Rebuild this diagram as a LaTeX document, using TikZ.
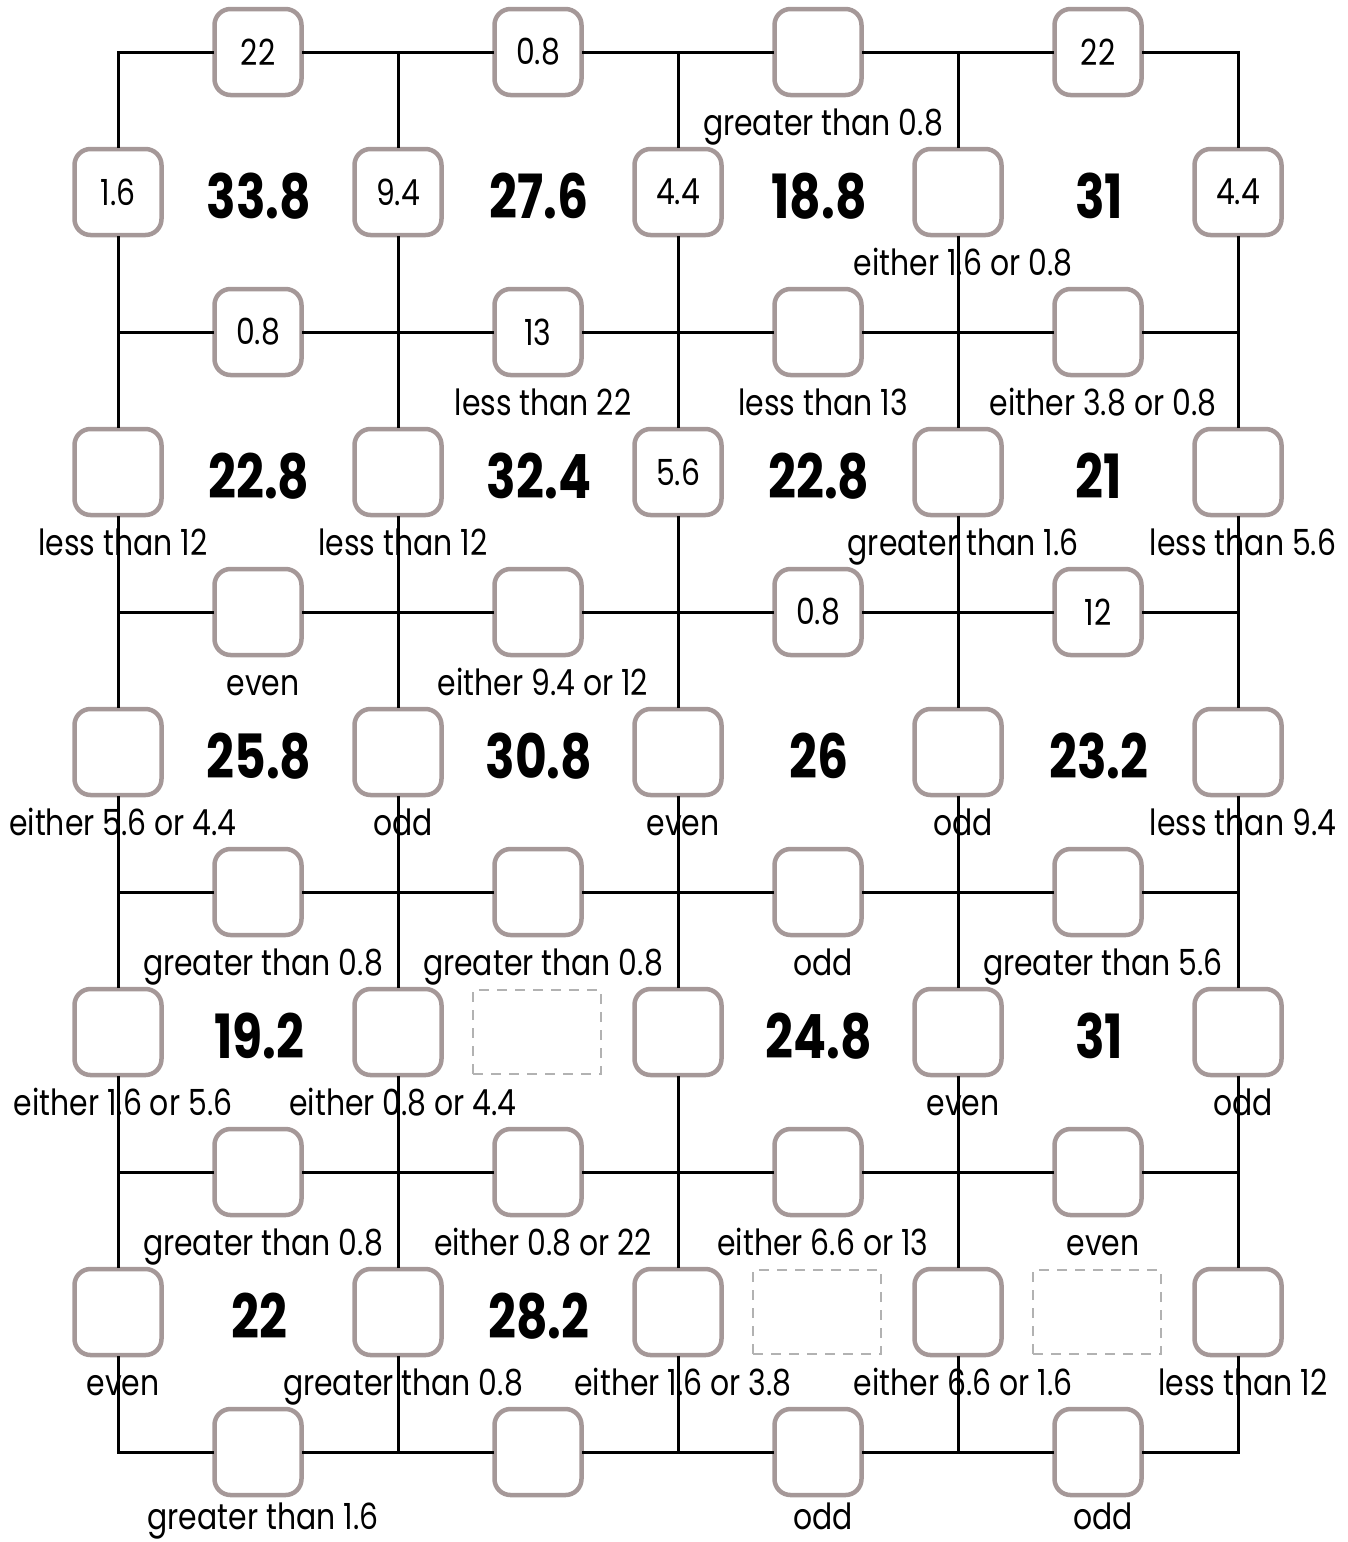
\documentclass[tikz,border=0pt]{standalone}
\usepackage{fontspec}
\setmainfont{Poppins}[FakeStretch=0.83]
\newfontfamily\bignum{Poppins}[FakeStretch=0.8]
\definecolor{boxc}{RGB}{165,152,152}
\definecolor{dashc}{RGB}{178,178,178}
\newcommand\myH[4]{%
  \node[box] (h-#1-#2) at ({258+280*#2},{52+280*#1}) {#3};
  \def\mytmp{#4}\ifx\mytmp\empty\else
  \node[lbl] (hl-#1-#2) at ({263+280*#2},{135+280*#1-6*(#1==5)}) {#4};\fi}
\newcommand\myV[4]{%
  \node[box] (v-#1-#2) at ({118+280*#2},{192+280*#1}) {#3};
  \def\mytmp{#4}\ifx\mytmp\empty\else
  \node[lbl] (vl-#1-#2) at ({123+280*#2},{275+280*#1}) {#4};\fi}
\newcommand\myN[3]{%
  \node[cellnum] (n-#1-#2) at ({259+280*#2},{218+280*#1}) {#3};}
\begin{document}
\begin{tikzpicture}[x=1pt,y=-1pt,
  box/.style={draw=boxc,line width=4.5pt,fill=white,rounded corners=16pt,
    minimum width=87pt,minimum height=86pt,inner sep=0pt,
    font=\fontsize{36}{40}\selectfont},
  lbl/.style={anchor=base,inner sep=0pt,font=\fontsize{36}{40}\selectfont},
  cellnum/.style={anchor=base,inner sep=0pt,font=\bignum\bfseries\fontsize{61}{64}\selectfont},
  gridline/.style={line width=3pt,black,line cap=rect},
  ghost/.style={draw=dashc,line width=2pt,dash pattern=on 10pt off 8pt,
    minimum width=128pt,minimum height=84pt,inner sep=0pt}]
\useasboundingbox (0,0) rectangle (1348,1542);
% corners
\foreach \i in {0,...,5}{\foreach \j in {0,...,4}{
  \coordinate (k-\i-\j) at ({118+280*\j},{52+280*\i});}}
% horizontal-edge boxes
\myH{0}{0}{22}{}
\myH{0}{1}{0.8}{}
\myH{0}{2}{}{greater than 0.8}
\myH{0}{3}{22}{}
\myH{1}{0}{0.8}{}
\myH{1}{1}{13}{less than 22}
\myH{1}{2}{}{less than 13}
\myH{1}{3}{}{either 3.8 or 0.8}
\myH{2}{0}{}{even}
\myH{2}{1}{}{either 9.4 or 12}
\myH{2}{2}{0.8}{}
\myH{2}{3}{12}{}
\myH{3}{0}{}{greater than 0.8}
\myH{3}{1}{}{greater than 0.8}
\myH{3}{2}{}{odd}
\myH{3}{3}{}{greater than 5.6}
\myH{4}{0}{}{greater than 0.8}
\myH{4}{1}{}{either 0.8 or 22}
\myH{4}{2}{}{either 6.6 or 13}
\myH{4}{3}{}{even}
\myH{5}{0}{}{greater than 1.6}
\myH{5}{1}{}{}
\myH{5}{2}{}{odd}
\myH{5}{3}{}{odd}
% vertical-edge boxes
\myV{0}{0}{1.6}{}
\myV{0}{1}{9.4}{}
\myV{0}{2}{4.4}{}
\myV{0}{3}{}{either 1.6 or 0.8}
\myV{0}{4}{4.4}{}
\myV{1}{0}{}{less than 12}
\myV{1}{1}{}{less than 12}
\myV{1}{2}{5.6}{}
\myV{1}{3}{}{greater than 1.6}
\myV{1}{4}{}{less than 5.6}
\myV{2}{0}{}{either 5.6 or 4.4}
\myV{2}{1}{}{odd}
\myV{2}{2}{}{even}
\myV{2}{3}{}{odd}
\myV{2}{4}{}{less than 9.4}
\myV{3}{0}{}{either 1.6 or 5.6}
\myV{3}{1}{}{either 0.8 or 4.4}
\myV{3}{2}{}{}
\myV{3}{3}{}{even}
\myV{3}{4}{}{odd}
\myV{4}{0}{}{even}
\myV{4}{1}{}{greater than 0.8}
\myV{4}{2}{}{either 1.6 or 3.8}
\myV{4}{3}{}{either 6.6 or 1.6}
\myV{4}{4}{}{less than 12}
% cell numbers
\myN{0}{0}{33.8}\myN{0}{1}{27.6}\myN{0}{2}{18.8}\myN{0}{3}{31}
\myN{1}{0}{22.8}\myN{1}{1}{32.4}\myN{1}{2}{22.8}\myN{1}{3}{21}
\myN{2}{0}{25.8}\myN{2}{1}{30.8}\myN{2}{2}{26}\myN{2}{3}{23.2}
\myN{3}{0}{19.2}\myN{3}{2}{24.8}\myN{3}{3}{31}
\myN{4}{0}{22}\myN{4}{1}{28.2}
% empty dashed cells
\node[ghost] (g-3-1) at (537,1032) {};
\node[ghost] (g-4-2) at (817,1312) {};
\node[ghost] (g-4-3) at (1097,1312) {};
% grid lines
\foreach \j in {0,...,4}{
  \draw[gridline] (k-0-\j) -- (v-0-\j) -- (k-1-\j) -- (v-1-\j) -- (k-2-\j)
    -- (v-2-\j) -- (k-3-\j) -- (v-3-\j) -- (k-4-\j) -- (v-4-\j) -- (k-5-\j);}
\foreach \i in {0,...,5}{
  \draw[gridline] (k-\i-0) -- (h-\i-0) -- (k-\i-1) -- (h-\i-1) -- (k-\i-2)
    -- (h-\i-2) -- (k-\i-3) -- (h-\i-3) -- (k-\i-4);}
\end{tikzpicture}
\end{document}
